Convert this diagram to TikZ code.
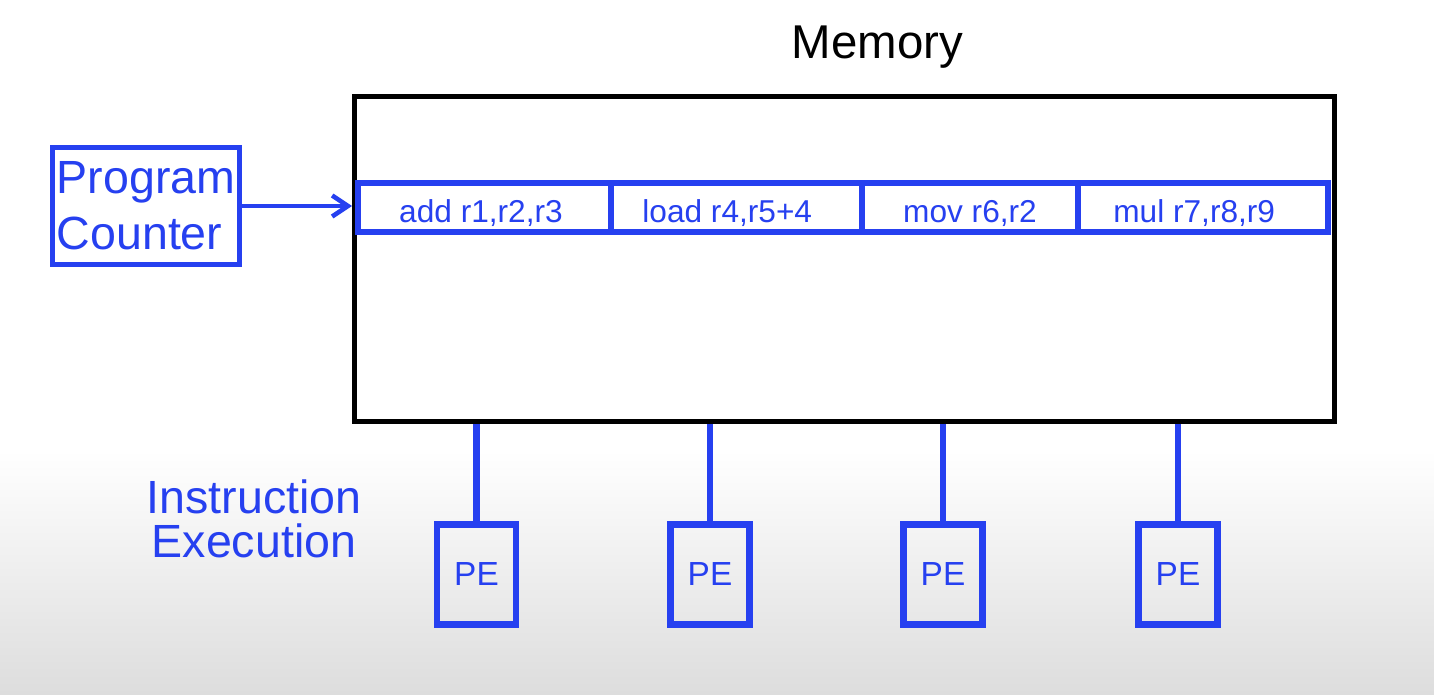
\documentclass[tikz,border=0pt]{standalone}
\usepackage{fontspec}
\setmainfont{Liberation Sans}
\usepackage{xcolor}
\usepackage{tikz}
\usetikzlibrary{arrows, arrows.meta}
\definecolor{peblue}{RGB}{38,64,240}
\definecolor{bggray}{RGB}{221,221,221}

\begin{document}
\begin{tikzpicture}[x=0.02cm,y=-0.02cm,
  bluebox/.style={draw=peblue,line width=3pt,inner sep=0pt,text=peblue},
  instr/.style={bluebox,line width=3.3pt,minimum height=0.97cm,text height=17.6pt,text depth=0pt,
    font=\fontsize{18}{20}\selectfont},
  pebox/.style={bluebox,line width=3.6pt,minimum width=1.58cm,minimum height=2cm,font=\fontsize{19}{22}\selectfont},
  bigtext/.style={text=peblue,align=center,inner sep=0pt}]
\useasboundingbox (0,0) rectangle (1434,694);
\fill[white] (0,0) rectangle (1434,694);
\shade[top color=white,bottom color=bggray] (0,450) rectangle (1434,694);
%\draw[step=50,gray,very thin] (0,0) grid (1434,694);
\node[anchor=base,font=\fontsize{27}{30}\selectfont] (memlabel) at (877.5,58) {Memory};
\node[draw=black,line width=2.9pt,minimum width=19.6cm,minimum height=6.5cm] (mem) at (844.5,259) {};
\node[instr,minimum width=5.06cm] (i1) at (484.5,207.5) {add r1,r2,r3\kern4pt};
\node[instr,minimum width=5.02cm] (i2) at (736.5,207.5) {load r4,r5+4\kern10.5pt};
\node[instr,minimum width=4.32cm] (i3) at (970,207.5) {mov r6,r2};
\node[instr,minimum width=5.0cm] (i4) at (1203,207.5) {mul r7,r8,r9\kern10pt};
\node[bluebox,minimum width=3.75cm,minimum height=2.33cm,align=left,
  font=\fontsize{26.5}{32}\selectfont] (pc) at (146,206) {Program\\Counter};
\draw[peblue,line width=2.6pt,-{Straight Barb[length=9pt,width=12pt]}] (pc.east) -- (pc.east -| mem.west);
\node[bigtext,font=\fontsize{26.5}{25}\selectfont] (exec) at (254,519) {Instruction\\Execution};
\node[pebox] (pe1) at (476.5,574.5) {PE};
\node[pebox] (pe2) at (710,574.5) {PE};
\node[pebox] (pe3) at (943,574.5) {PE};
\node[pebox] (pe4) at (1178,574.5) {PE};
\draw[peblue,line width=3.6pt] (pe1.north) -- (pe1.north |- mem.south);
\draw[peblue,line width=3.6pt] (pe2.north) -- (pe2.north |- mem.south);
\draw[peblue,line width=3.6pt] (pe3.north) -- (pe3.north |- mem.south);
\draw[peblue,line width=3.6pt] (pe4.north) -- (pe4.north |- mem.south);
\end{tikzpicture}
\end{document}
